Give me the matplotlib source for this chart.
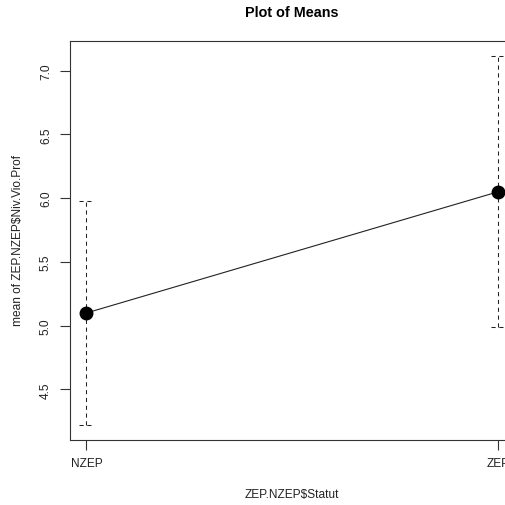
import matplotlib
matplotlib.use("Agg")
import matplotlib.pyplot as plt
import numpy as np

# --- data ---
groups = ["NZEP", "ZEP"]
means = [5.10, 6.05]
ci_lower = [4.22, 4.99]
ci_upper = [5.98, 7.115]
y_ticks = [4.5, 5.0, 5.5, 6.0, 6.5, 7.0]

plt.rcParams['font.family'] = ['Liberation Sans', 'DejaVu Sans']

W = 506
fig = plt.figure(figsize=(W / 100, W / 100), dpi=100)
# plot region is wider than the picture: right side is cut off
left, right, top, bottom = 70, 514.6, 42, 441
ax = fig.add_axes([left / W, 1 - bottom / W, (right - left) / W, (bottom - top) / W])

x = np.arange(1, len(groups) + 1)
cap = 0.018

ax.plot(x, means, color='#222222', lw=0.8, zorder=2)
ax.vlines(x, ci_lower, ci_upper, colors='#222222', lw=0.75, linestyles=(0, (4, 3.5)), zorder=1)
ax.hlines(ci_lower, x - cap, x + cap, colors='#222222', lw=0.75, linestyles=(0, (4, 3.5)))
ax.hlines(ci_upper, x - cap, x + cap, colors='#222222', lw=0.75, linestyles=(0, (4, 3.5)))
ax.plot(x, means, 'o', color='black', ms=9, zorder=3)

ax.set_xlim(0.96, 2.04)
ax.set_ylim(4.104, 7.232)

ax.set_xticks(x)
ax.set_xticklabels(groups)
ax.set_yticks(y_ticks)
ax.set_yticklabels([f"{v:.1f}" for v in y_ticks], rotation=90, va='center')

ax.tick_params(direction='out', length=7, width=0.8, colors='#333333', labelsize=8.6)
ax.tick_params(axis='y', pad=6)
ax.tick_params(axis='x', pad=5)
for t in ax.get_xticklabels() + ax.get_yticklabels():
    t.set_color('#222222')
for s in ax.spines.values():
    s.set_linewidth(0.8)
    s.set_color('#333333')

fig.text(292 / W, 1 - 13 / W, "Plot of Means", ha='center', va='center',
         fontsize=10.4, fontweight='bold')
fig.text(292 / W, 1 - 495 / W, "ZEP.NZEP$Statut", ha='center', va='center',
         fontsize=8.6, color='#222222')
fig.text(18 / W, 1 - 241 / W, "mean of ZEP.NZEP$Niv.Vio.Prof", ha='center', va='center',
         rotation=90, fontsize=8.6, color='#222222')

fig.savefig("out.png", dpi=100)
